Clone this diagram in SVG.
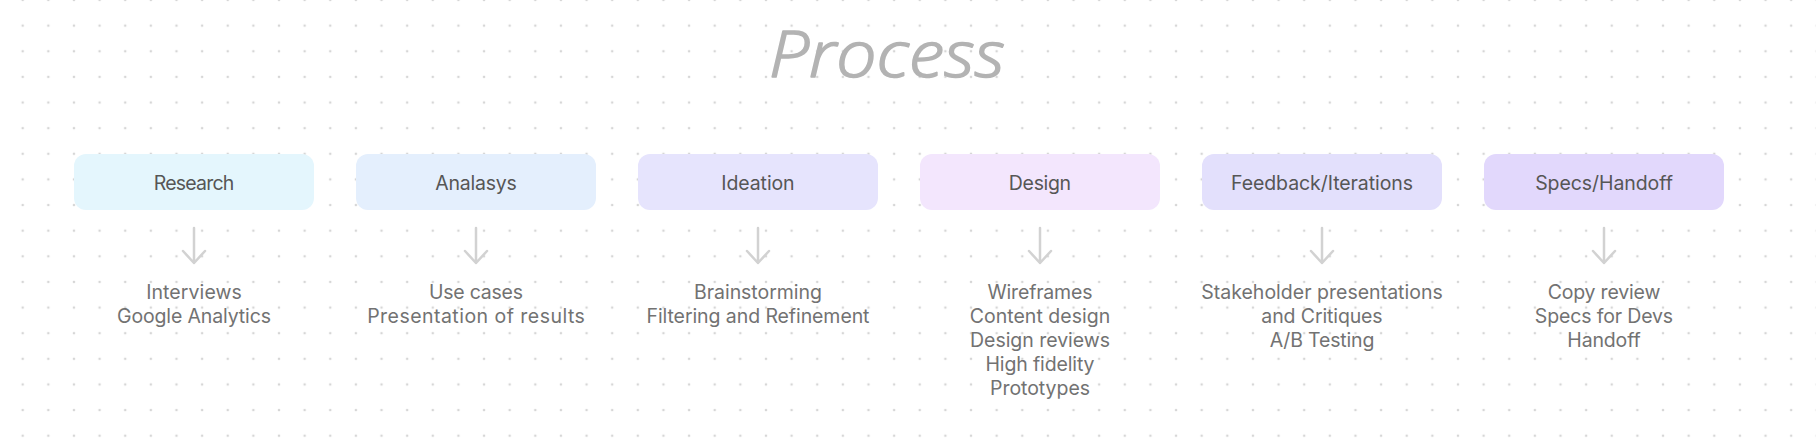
<svg xmlns="http://www.w3.org/2000/svg" width="1816" height="444" viewBox="0 0 1816 444">
  <defs>
    <pattern id="dots" x="22.7" y="0" width="25.63" height="25.63" patternUnits="userSpaceOnUse">
      <circle cx="0" cy="0" r="1.3" fill="#d6d6d6"/>
      <circle cx="25.63" cy="0" r="1.3" fill="#d6d6d6"/>
      <circle cx="0" cy="25.63" r="1.3" fill="#d6d6d6"/>
      <circle cx="25.63" cy="25.63" r="1.3" fill="#d6d6d6"/>
    </pattern>
    <style>
      .box { stroke: none; }
      .lbl { font-family: Inter, "Liberation Sans", sans-serif; font-size: 19.5px; fill: #565656; text-anchor: middle; }
      .sub { font-family: Inter, "Liberation Sans", sans-serif; font-size: 19.5px; fill: #727272; text-anchor: middle; }
      .arr { fill: none; stroke: #d2d2d2; stroke-width: 2.5; stroke-linecap: round; stroke-linejoin: round; }
      .title { font-family: "Open Sans", "DejaVu Sans", sans-serif; font-style: italic; font-weight: 300; font-size: 64px; fill: #b3b3b3; stroke: #b3b3b3; stroke-width: 1.6; stroke-linejoin: round; text-anchor: middle; }
    </style>
  </defs>
  <rect x="0" y="0" width="1816" height="444" fill="#ffffff"/>
  <rect x="0" y="0" width="1816" height="444" fill="url(#dots)"/>

  <text class="title" x="887" y="77" textLength="236" lengthAdjust="spacingAndGlyphs">Process</text>

  <g id="node-research">
    <rect class="box" x="74" y="154" width="240" height="56" rx="12" fill="#e4f6fd"/>
    <text class="lbl" x="194" y="189.5" textLength="80.6">Research</text>
    <text class="sub" x="194" y="298.5" textLength="95.7">Interviews</text>
    <text class="sub" x="194" y="322.7" textLength="154">Google Analytics</text>
  </g>
  <g id="node-analasys">
    <rect class="box" x="356" y="154" width="240" height="56" rx="12" fill="#e4effd"/>
    <text class="lbl" x="476" y="189.5" textLength="81.7">Analasys</text>
    <text class="sub" x="476" y="298.5" textLength="94">Use cases</text>
    <text class="sub" x="476" y="322.7" textLength="217.7">Presentation of results</text>
  </g>
  <g id="node-ideation">
    <rect class="box" x="638" y="154" width="240" height="56" rx="12" fill="#e6e4fd"/>
    <text class="lbl" x="758" y="189.5" textLength="73.3">Ideation</text>
    <text class="sub" x="758" y="298.5" textLength="128">Brainstorming</text>
    <text class="sub" x="758" y="322.7" textLength="223">Filtering and Refinement</text>
  </g>
  <g id="node-design">
    <rect class="box" x="920" y="154" width="240" height="56" rx="12" fill="#f3e6fd"/>
    <text class="lbl" x="1040" y="189.5" textLength="62.3">Design</text>
    <text class="sub" x="1040" y="298.5" textLength="105">Wireframes</text>
    <text class="sub" x="1040" y="322.7" textLength="140.7">Content design</text>
    <text class="sub" x="1040" y="346.9" textLength="140">Design reviews</text>
    <text class="sub" x="1040" y="371.1" textLength="109">High fidelity</text>
    <text class="sub" x="1040" y="395.3" textLength="100">Prototypes</text>
  </g>
  <g id="node-feedback">
    <rect class="box" x="1202" y="154" width="240" height="56" rx="12" fill="#e3e0fc"/>
    <text class="lbl" x="1322" y="189.5" textLength="182">Feedback/Iterations</text>
    <text class="sub" x="1322" y="298.5" textLength="241.6">Stakeholder presentations</text>
    <text class="sub" x="1322" y="322.7" textLength="121.3">and Critiques</text>
    <text class="sub" x="1322" y="346.9" textLength="104.7">A/B Testing</text>
  </g>
  <g id="node-specs">
    <rect class="box" x="1484" y="154" width="240" height="56" rx="12" fill="#e2d8fc"/>
    <text class="lbl" x="1604" y="189.5" textLength="137.7">Specs/Handoff</text>
    <text class="sub" x="1604" y="298.5" textLength="112.7">Copy review</text>
    <text class="sub" x="1604" y="322.7" textLength="138.3">Specs for Devs</text>
    <text class="sub" x="1604" y="346.9" textLength="73.3">Handoff</text>
  </g>

  <g id="connectors">
    <path class="arr" d="M194 228 V263 M183 251 L194 263 L205 251"/>
    <path class="arr" d="M476 228 V263 M465 251 L476 263 L487 251"/>
    <path class="arr" d="M758 228 V263 M747 251 L758 263 L769 251"/>
    <path class="arr" d="M1040 228 V263 M1029 251 L1040 263 L1051 251"/>
    <path class="arr" d="M1322 228 V263 M1311 251 L1322 263 L1333 251"/>
    <path class="arr" d="M1604 228 V263 M1593 251 L1604 263 L1615 251"/>
  </g>
</svg>
